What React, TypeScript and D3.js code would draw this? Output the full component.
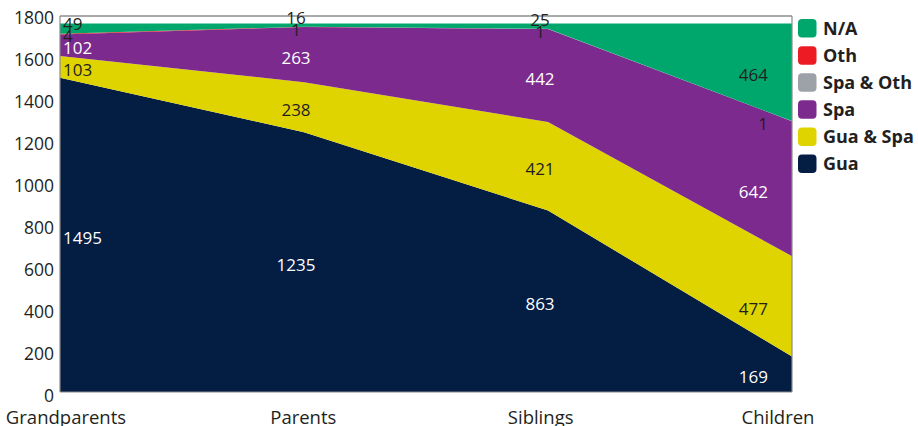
import React from "react";
import * as d3 from "d3";

// Relationship categories along the x axis
const categories = ["Grandparents", "Parents", "Siblings", "Children"];

// Series values, bottom of the stack first
const gua = [1495, 1235, 863, 169];
const guaSpa = [103, 238, 421, 477];
const spa = [102, 263, 442, 642];
const spaOth = [0, 0, 1, 1];
const oth = [4, 1, 0, 0];
const na = [49, 16, 25, 464];

const seriesNames = ["Gua", "Gua & Spa", "Spa", "Spa & Oth", "Oth", "N/A"];
const seriesValues = [gua, guaSpa, spa, spaOth, oth, na];
const seriesColors = ["#041d42", "#e0d400", "#7c2a8e", "#9ca2a8", "#ed1c24", "#00a76d"];
const labelColors = ["#ffffff", "#231f20", "#ffffff", "#231f20", "#231f20", "#231f20"];

const yTicks = [0, 200, 400, 600, 800, 1000, 1200, 1400, 1600, 1800];

const W = 918;
const H = 426;
const plot = { left: 60, right: 792, top: 16, bottom: 392 };
const FONT = "'Open Sans', 'Noto Sans', sans-serif";
const TEXT = "#231f20";

export default function App() {
  const rows = categories.map((c, i) => {
    const r: Record<string, any> = { category: c };
    seriesNames.forEach((s, k) => (r[s] = seriesValues[k][i]));
    return r;
  });

  const stack = d3.stack<any>().keys(seriesNames);
  const layers = stack(rows);

  const x = d3.scalePoint<string>().domain(categories).range([plot.left, plot.right]);
  const xLabel = d3.scalePoint<string>().domain(categories).range([66, 778]);
  const y = d3.scaleLinear().domain([0, 1800]).range([plot.bottom, 13.5]);

  const area = d3
    .area<any>()
    .x((d) => x(d.data.category) as number)
    .y0((d) => y(d[0]))
    .y1((d) => y(d[1]));

  // value labels per category, pushed apart where bands are very thin
  const labels: { key: string; text: string; x: number; y: number; color: string; anchor: string }[] = [];
  categories.forEach((c, i) => {
    const items = layers
      .map((layer, k) => {
        const d = layer[i];
        const v = seriesValues[k][i];
        return { k, v, y: y((d[0] + d[1]) / 2) };
      })
      .filter((o) => o.v > 0)
      .sort((a, b) => a.y - b.y);
    for (let j = items.length - 2; j >= 0; j--) {
      if (items[j].y > items[j + 1].y - 12) items[j].y = items[j + 1].y - 12;
    }
    const cx = x(c) as number;
    const last = i === categories.length - 1;
    const anchor = i === 0 ? "start" : last ? "end" : "middle";
    const lx = i === 0 ? cx + 3 : last ? cx - 24 : cx - 8;
    items.forEach((o) =>
      labels.push({
        key: `${c}-${o.k}`,
        text: String(o.v),
        x: lx,
        y: o.y,
        color: labelColors[o.k],
        anchor,
      })
    );
  });

  const legendOrder = [...seriesNames].reverse();

  return (
    <svg
      width={W}
      height={H}
      style={{ position: "absolute", left: 0, top: 0, background: "#ffffff" }}
      fontFamily={FONT}
    >
      <defs>
        <clipPath id="plot-clip">
          <rect x={plot.left} y={plot.top} width={plot.right - plot.left} height={plot.bottom - plot.top} />
        </clipPath>
      </defs>
      <g clipPath="url(#plot-clip)">
        {layers.map((layer, k) => (
          <path key={seriesNames[k]} d={area(layer) || ""} fill={seriesColors[k]} />
        ))}
      </g>

      {/* frame */}
      <line x1={plot.left} x2={plot.right} y1={plot.top} y2={plot.top} stroke="#555555" strokeWidth={1} />
      <line x1={plot.right} x2={plot.right} y1={plot.top} y2={plot.bottom} stroke="#8a8a8a" strokeWidth={1.2} />
      <line x1={plot.left} x2={plot.left} y1={plot.top} y2={plot.bottom} stroke="#8a8a8a" strokeWidth={1.2} />
      <line x1={plot.left} x2={plot.right} y1={plot.bottom} y2={plot.bottom} stroke="#8a8a8a" strokeWidth={1.2} />

      {/* y tick labels */}
      {yTicks.map((t) => (
        <text
          key={t}
          x={54}
          y={y(t) + 2}
          dy="0.47em"
          textAnchor="end"
          fontSize={17.5}
          fill={TEXT}
        >
          {t}
        </text>
      ))}

      {/* category labels */}
      {categories.map((c) => (
        <text key={c} x={xLabel(c)} y={423.5} textAnchor="middle" fontSize={18.5} fill={TEXT}>
          {c}
        </text>
      ))}

      {/* value labels */}
      {labels.map((l) => (
        <text
          key={l.key}
          x={l.x}
          y={l.y}
          dy="0.53em"
          textAnchor={l.anchor}
          fontSize={17}
          fill={l.color}
        >
          {l.text}
        </text>
      ))}

      {/* legend */}
      {legendOrder.map((name, i) => {
        const k = seriesNames.indexOf(name);
        const cy = 28.3 + i * 27.1;
        return (
          <g key={name}>
            <rect x={798} y={cy - 9.25} width={18.5} height={18.5} rx={4} fill={seriesColors[k]} />
            <text x={823} y={cy} dy="0.36em" fontSize={18} fontWeight={700} fill={TEXT}>
              {name}
            </text>
          </g>
        );
      })}
    </svg>
  );
}
